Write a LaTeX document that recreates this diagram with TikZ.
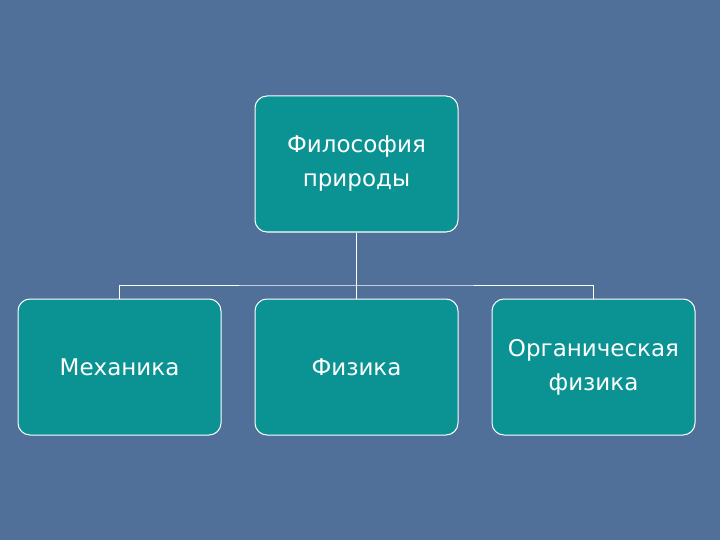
\documentclass[tikz,border=0pt]{standalone}
\usepackage{fontspec}
\setmainfont{DejaVu Sans}
\definecolor{bg}{HTML}{50709A}
\definecolor{boxc}{HTML}{0B9393}
\tikzset{box/.style={draw=white,line width=1pt,fill=boxc,rounded corners=12pt,minimum width=203pt,minimum height=136pt,text=white,align=center,font=\fontsize{23}{34}\selectfont,inner sep=0pt},
ln/.style={draw=white,line width=1pt}}
\begin{document}
\begin{tikzpicture}[x=1pt,y=-1pt]
\fill[bg] (0,0) rectangle (720,540);
\useasboundingbox (0,0) rectangle (720,540);
\node[box] (top) at (356.5,164) {Философия\\ природы};
\node[box] (b1) at (119.5,367) {Механика};
\node[box] (b2) at (356.5,367) {Физика};
\node[box] (b3) at (593.5,367) {Органическая\\ физика};
\coordinate (j) at (356.5,285);
\draw[ln] (top.south) -- (j);
\draw[ln] (b1.north) |- (j) -| (b3.north);
\draw[ln] (j) -- (b2.north);
\end{tikzpicture}
\end{document}
